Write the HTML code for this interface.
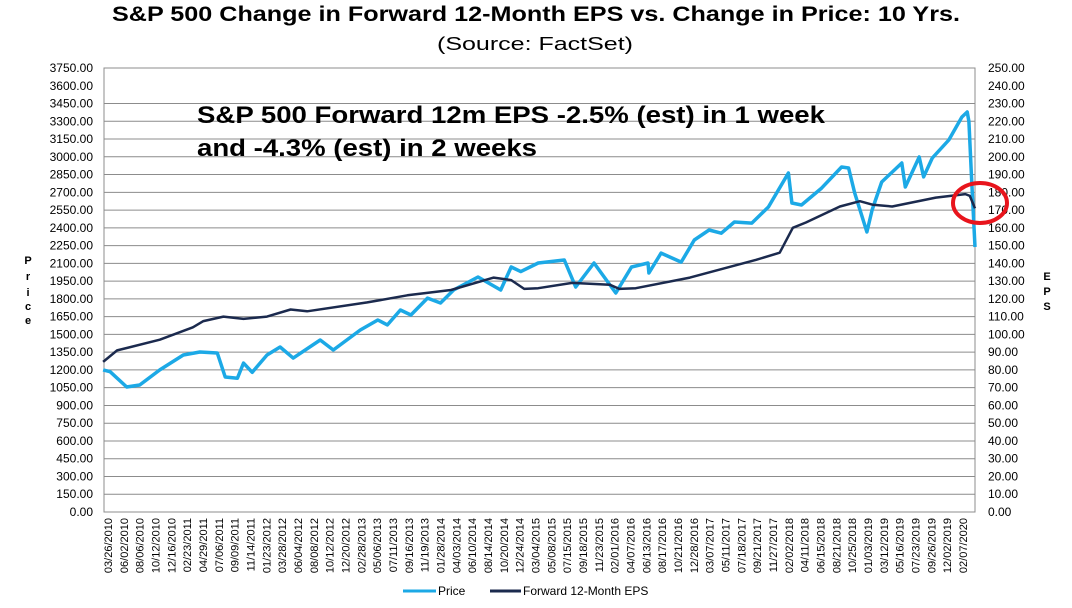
<!DOCTYPE html>
<html><head><meta charset="utf-8"><style>
body{margin:0;background:#fff;}
svg{display:block;font-family:"Liberation Sans",Arial,sans-serif;}
</style></head><body>
<svg id="chart" width="1072" height="608" viewBox="0 0 1072 608">
<text x="112" y="21" font-size="21" font-weight="bold" textLength="848" lengthAdjust="spacingAndGlyphs">S&amp;P 500 Change in Forward 12-Month EPS vs. Change in Price: 10 Yrs.</text>
<text x="437" y="50" font-size="18" textLength="196" lengthAdjust="spacingAndGlyphs">(Source: FactSet)</text>
<g id="grid"></g>
<g id="axes"></g>
<g id="series"></g>
<text x="197" y="123" font-size="24" font-weight="bold" textLength="628" lengthAdjust="spacingAndGlyphs">S&amp;P 500 Forward 12m EPS -2.5% (est) in 1 week</text>
<text x="197" y="156" font-size="24" font-weight="bold" textLength="340" lengthAdjust="spacingAndGlyphs">and -4.3% (est) in 2 weeks</text>
<ellipse cx="980" cy="203" rx="27" ry="20" fill="none" stroke="#e8141c" stroke-width="4"/>
<g font-size="11" font-weight="bold" text-anchor="middle">
<text x="28" y="264">P</text><text x="28" y="280">r</text><text x="28" y="296">i</text><text x="28" y="310">c</text><text x="28" y="324">e</text></g>
<g font-size="11" font-weight="bold" text-anchor="middle">
<text x="1047" y="280">E</text><text x="1047" y="295">P</text><text x="1047" y="310">S</text></g>
<g font-size="12">
<line x1="403" y1="591" x2="436" y2="591" stroke="#1ca9e6" stroke-width="3"/>
<text x="438" y="595">Price</text>
<line x1="490" y1="591" x2="521" y2="591" stroke="#1b2a4e" stroke-width="3"/>
<text x="523" y="595">Forward 12-Month EPS</text>
</g>
</svg>
<script>
const priceDates=[2010.22,2010.30,2010.49,2010.64,2010.87,2011.14,2011.33,2011.53,2011.62,2011.76,2011.83,2011.93,2012.10,2012.25,2012.40,2012.71,2012.86,2013.17,2013.37,2013.48,2013.63,2013.75,2013.94,2014.09,2014.24,2014.52,2014.78,2014.90,2015.01,2015.21,2015.51,2015.64,2015.85,2016.10,2016.28,2016.47,2016.48,2016.62,2016.85,2017.00,2017.17,2017.31,2017.46,2017.66,2017.85,2018.08,2018.12,2018.23,2018.46,2018.69,2018.77,2018.84,2018.98,2019.04,2019.15,2019.38,2019.42,2019.58,2019.63,2019.73,2019.92,2020.07,2020.13,2020.15,2020.18,2020.22];
const priceValues=[1200,1185,1056,1073,1200,1326,1351,1343,1140,1130,1258,1180,1326,1394,1300,1453,1368,1537,1622,1580,1706,1664,1807,1765,1875,1985,1875,2069,2030,2103,2128,1900,2103,1850,2069,2103,2019,2187,2111,2297,2382,2355,2449,2440,2576,2863,2610,2593,2736,2914,2905,2694,2365,2551,2787,2948,2745,2998,2830,2990,3142,3336,3378,3300,2830,2238];
const epsDates=[2010.22,2010.38,2010.87,2011.25,2011.37,2011.60,2011.83,2012.10,2012.37,2012.56,2013.25,2013.71,2014.21,2014.70,2014.90,2015.05,2015.21,2015.60,2016.03,2016.14,2016.33,2016.95,2017.33,2017.71,2017.98,2018.13,2018.28,2018.67,2018.90,2019.05,2019.27,2019.77,2020.11,2020.16,2020.22];
const epsValues=[84.5,91,97,104,107.5,110,108.7,110,114,113,118,122,125,132,130.6,125.6,126,129,128,125.6,126,132,137,142,146,160,163,172,175,173,172,177,179,178,171];
const leftTicks=[0,150,300,450,600,750,900,1050,1200,1350,1500,1650,1800,1950,2100,2250,2400,2550,2700,2850,3000,3150,3300,3450,3600,3750];
const rightTicks=[0,10,20,30,40,50,60,70,80,90,100,110,120,130,140,150,160,170,180,190,200,210,220,230,240,250];
const xLabels=["03/26/2010","06/02/2010","08/06/2010","10/12/2010","12/16/2010","02/23/2011","04/29/2011","07/06/2011","09/09/2011","11/14/2011","01/23/2012","03/28/2012","06/04/2012","08/08/2012","10/12/2012","12/20/2012","02/28/2013","05/06/2013","07/11/2013","09/16/2013","11/19/2013","01/28/2014","04/03/2014","06/10/2014","08/14/2014","10/20/2014","12/24/2014","03/04/2015","05/08/2015","07/15/2015","09/18/2015","11/23/2015","02/01/2016","04/07/2016","06/13/2016","08/17/2016","10/21/2016","12/28/2016","03/07/2017","05/11/2017","07/18/2017","09/21/2017","11/27/2017","02/02/2018","04/11/2018","06/15/2018","08/21/2018","10/25/2018","01/03/2019","03/12/2019","05/16/2019","07/23/2019","09/26/2019","12/02/2019","02/07/2020"];

const NS="http://www.w3.org/2000/svg";
const L=104,R=975,T=68,B=512;
const d0=2010.23,d1=2020.22;
const xScale=d=>L+(d-d0)/(d1-d0)*(R-L);
const yLeft=v=>B-v/3750*(B-T);
const yRight=v=>B-v/250*(B-T);
function mk(tag,attrs,parent){const e=document.createElementNS(NS,tag);for(const k in attrs)e.setAttribute(k,attrs[k]);parent.appendChild(e);return e;}
const grid=document.getElementById('grid'),axes=document.getElementById('axes'),series=document.getElementById('series');

leftTicks.forEach((v,i)=>{
  const y=yLeft(v);
  if(v>0&&v!==3600){const g=mk('line',{x1:L,x2:R,y1:y,y2:y,stroke:'#8c8c8c','stroke-width':1},grid);
  
  }
  const t=mk('text',{x:93,y:y+4,'text-anchor':'end','font-size':12},axes);
  t.textContent=v.toFixed(2);
  
  
});
rightTicks.forEach(v=>{
  const t=mk('text',{x:988,y:yRight(v)+4,'font-size':12},axes);
  t.textContent=v.toFixed(2);
  
  
});
const frame=mk('rect',{x:L,y:T,width:R-L,height:B-T,fill:'none',stroke:'#8c8c8c','stroke-width':1},axes);


const step=(963-108)/(xLabels.length-1);
xLabels.forEach((s,i)=>{
  const x=108+i*step;
  const t=mk('text',{x:0,y:0,'text-anchor':'end','font-size':11,transform:`translate(${x+4},518) rotate(-90)`},axes);
  t.textContent=s;
  
  
});
const pp=priceDates.map((d,i)=>xScale(d).toFixed(1)+','+yLeft(priceValues[i]).toFixed(1)).join(' ');
const pl=mk('polyline',{points:pp,fill:'none',stroke:'#1ca9e6','stroke-width':3.5,'stroke-linejoin':'round'},series);


const ep=epsDates.map((d,i)=>xScale(d).toFixed(1)+','+yRight(epsValues[i]).toFixed(1)).join(' ');
const el=mk('polyline',{points:ep,fill:'none',stroke:'#1b2a4e','stroke-width':2.5,'stroke-linejoin':'round'},series);


</script>
</body></html>
